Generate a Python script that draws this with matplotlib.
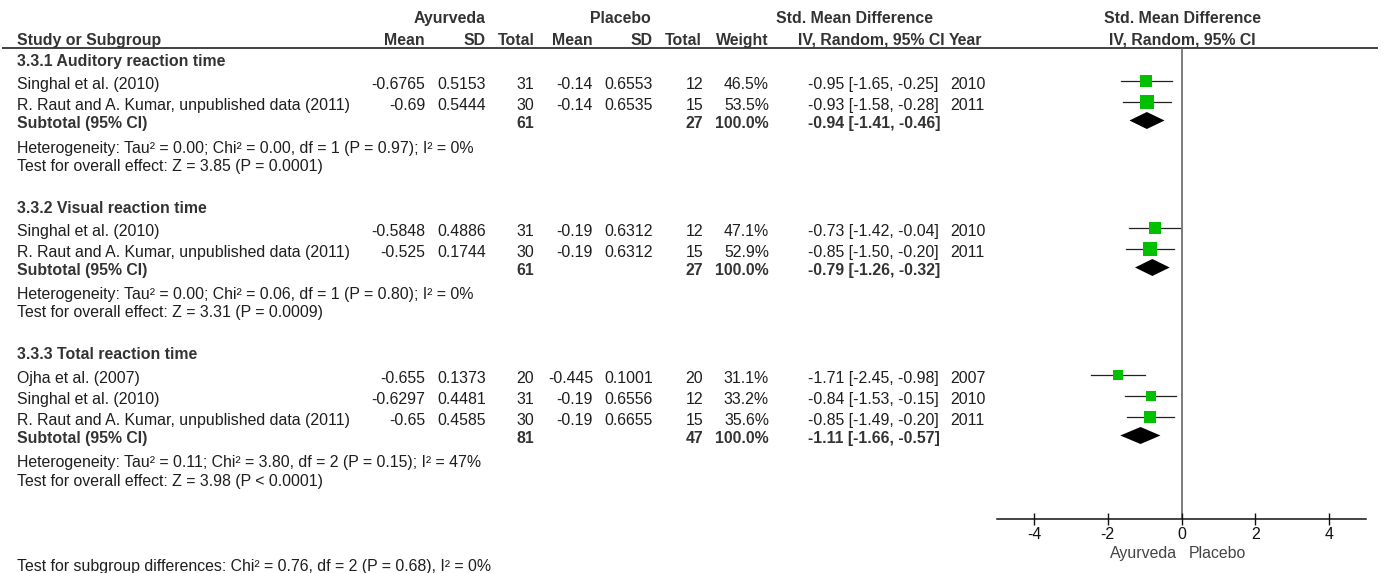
import matplotlib
matplotlib.use("Agg")
import matplotlib.pyplot as plt
import numpy as np

plt.rcParams["font.family"] = ["Liberation Sans", "DejaVu Sans"]
plt.rcParams["axes.unicode_minus"] = False

# ---- data -------------------------------------------------------------
group_titles = ["3.3.1 Auditory reaction time",
                "3.3.2 Visual reaction time",
                "3.3.3 Total reaction time"]

study_group = [0, 0, 1, 1, 2, 2, 2]
study_names = ["Singhal et al. (2010)",
               "R. Raut and A. Kumar, unpublished data (2011)",
               "Singhal et al. (2010)",
               "R. Raut and A. Kumar, unpublished data (2011)",
               "Ojha et al. (2007)",
               "Singhal et al. (2010)",
               "R. Raut and A. Kumar, unpublished data (2011)"]
ayu_mean = [-0.6765, -0.69, -0.5848, -0.525, -0.655, -0.6297, -0.65]
ayu_sd = [0.5153, 0.5444, 0.4886, 0.1744, 0.1373, 0.4481, 0.4585]
ayu_n = [31, 30, 31, 30, 20, 31, 30]
pla_mean = [-0.14, -0.14, -0.19, -0.19, -0.445, -0.19, -0.19]
pla_sd = [0.6553, 0.6535, 0.6312, 0.6312, 0.1001, 0.6556, 0.6655]
pla_n = [12, 15, 12, 15, 20, 12, 15]
weight = [46.5, 53.5, 47.1, 52.9, 31.1, 33.2, 35.6]
smd = [-0.95, -0.93, -0.73, -0.85, -1.71, -0.84, -0.85]
smd_lo = [-1.65, -1.58, -1.42, -1.50, -2.45, -1.53, -1.49]
smd_hi = [-0.25, -0.28, -0.04, -0.20, -0.98, -0.15, -0.20]
year = [2010, 2011, 2010, 2011, 2007, 2010, 2011]

sub_ayu_n = [61, 61, 81]
sub_pla_n = [27, 27, 47]
sub_smd = [-0.94, -0.79, -1.11]
sub_lo = [-1.41, -1.26, -1.66]
sub_hi = [-0.46, -0.32, -0.57]

het_text = ["Heterogeneity: Tau² = 0.00; Chi² = 0.00, df = 1 (P = 0.97); I² = 0%",
            "Heterogeneity: Tau² = 0.00; Chi² = 0.06, df = 1 (P = 0.80); I² = 0%",
            "Heterogeneity: Tau² = 0.11; Chi² = 3.80, df = 2 (P = 0.15); I² = 47%"]
overall_text = ["Test for overall effect: Z = 3.85 (P = 0.0001)",
                "Test for overall effect: Z = 3.31 (P = 0.0009)",
                "Test for overall effect: Z = 3.98 (P < 0.0001)"]
subgroup_text = "Test for subgroup differences: Chi² = 0.76, df = 2 (P = 0.68), I² = 0%"

x_ticks = [-4, -2, 0, 2, 4]

# ---- layout (pixel rows / columns) ------------------------------------
W, H = 1386, 573
title_y = [60, 207, 353]
study_y = [83, 104, 230, 251, 377, 398, 419]
subtotal_y = [122, 269, 437]
het_y = [147, 293, 461]
overall_y = [165, 311, 480]

FS = 11.4
CAP = 5.7          # half cap height in px, to centre text on a row
TXT = "#1e1e1e"
HDR = "#333333"

fig = plt.figure(figsize=(W / 100, H / 100), dpi=100)
ax = fig.add_axes([0, 0, 1, 1])
ax.set_xlim(0, W)
ax.set_ylim(H, 0)
ax.axis("off")


def put(x, y, s, ha="left", bold=False, color=TXT):
    ax.text(x, y + CAP, s, ha=ha, va="baseline", fontsize=FS,
            fontweight="bold" if bold else "normal", color=color)


# header
put(450, 17, "Ayurveda", "center", True, HDR)
put(620, 17, "Placebo", "center", True, HDR)
put(854, 17, "Std. Mean Difference", "center", True, HDR)
put(1182, 17, "Std. Mean Difference", "center", True, HDR)
put(17, 39, "Study or Subgroup", "left", True, HDR)
for x, s in [(425, "Mean"), (486, "SD"), (535, "Total"), (593, "Mean"),
             (653, "SD"), (702, "Total"), (769, "Weight"),
             (945, "IV, Random, 95% CI")]:
    put(x, 39, s, "right", True, HDR)
put(949, 39, "Year", "left", True, HDR)
put(1182, 39, "IV, Random, 95% CI", "center", True, HDR)
ax.plot([2, 1378], [48, 48], color="#333333", lw=1.3, solid_capstyle="butt")

# study rows
for i, y in enumerate(study_y):
    put(17, y, study_names[i])
    put(425, y, str(ayu_mean[i]), "right")
    put(486, y, str(ayu_sd[i]), "right")
    put(534, y, str(ayu_n[i]), "right")
    put(593, y, str(pla_mean[i]), "right")
    put(653, y, str(pla_sd[i]), "right")
    put(703, y, str(pla_n[i]), "right")
    put(769, y, f"{weight[i]:.1f}%", "right")
    put(808, y, f"{smd[i]:.2f} [{smd_lo[i]:.2f}, {smd_hi[i]:.2f}]")
    put(950, y, str(year[i]))

# subgroup titles, subtotals and tests
for g in range(3):
    put(17, title_y[g], group_titles[g], bold=True, color=HDR)
    put(17, subtotal_y[g], "Subtotal (95% CI)", bold=True, color=HDR)
    put(534, subtotal_y[g], str(sub_ayu_n[g]), "right", True, HDR)
    put(703, subtotal_y[g], str(sub_pla_n[g]), "right", True, HDR)
    put(769, subtotal_y[g], "100.0%", "right", True, HDR)
    put(808, subtotal_y[g],
        f"{sub_smd[g]:.2f} [{sub_lo[g]:.2f}, {sub_hi[g]:.2f}]", bold=True, color=HDR)
    put(17, het_y[g], het_text[g])
    put(17, overall_y[g], overall_text[g])

put(17, 565, subgroup_text)

# ---- forest panel -----------------------------------------------------
x0, x1, ytop, ybot = 997, 1366, 48, 519
fx = fig.add_axes([x0 / W, (H - ybot) / H, (x1 - x0) / W, (ybot - ytop) / H])
fx.set_xlim(-5, 5)
fx.set_ylim(ybot, ytop)
fx.patch.set_alpha(0)
for side in ["top", "left", "right"]:
    fx.spines[side].set_visible(False)
fx.spines["bottom"].set_linewidth(1.1)
fx.spines["bottom"].set_color("#111111")
fx.set_yticks([])
fx.set_xticks(x_ticks)
fx.set_xticklabels([str(t) for t in x_ticks])
fx.tick_params(axis="x", direction="inout", length=8, width=1.0,
               pad=1.5, labelsize=FS, colors="#111111")

fx.axvline(0, color="#666666", lw=1.2, zorder=1)

for i, y in enumerate(study_y):
    ym = y - 2.5
    fx.plot([smd_lo[i], smd_hi[i]], [ym, ym], color="#222222", lw=0.9, zorder=2)
    fx.plot(smd[i], ym, marker="s", ms=1.35 * np.sqrt(weight[i]),
            color="#00c000", mec="#00c000", mew=0, zorder=3)

for g, y in enumerate(subtotal_y):
    ym = y - 1.5
    fx.fill([sub_lo[g], sub_smd[g], sub_hi[g], sub_smd[g]],
            [ym, ym - 8.5, ym, ym + 8.5], color="black", lw=0, zorder=3)

put(1177, 552, "Ayurveda", "right", color="#444444")
put(1189, 552, "Placebo", "left", color="#444444")

fig.savefig("out.png", dpi=100, facecolor="white")
